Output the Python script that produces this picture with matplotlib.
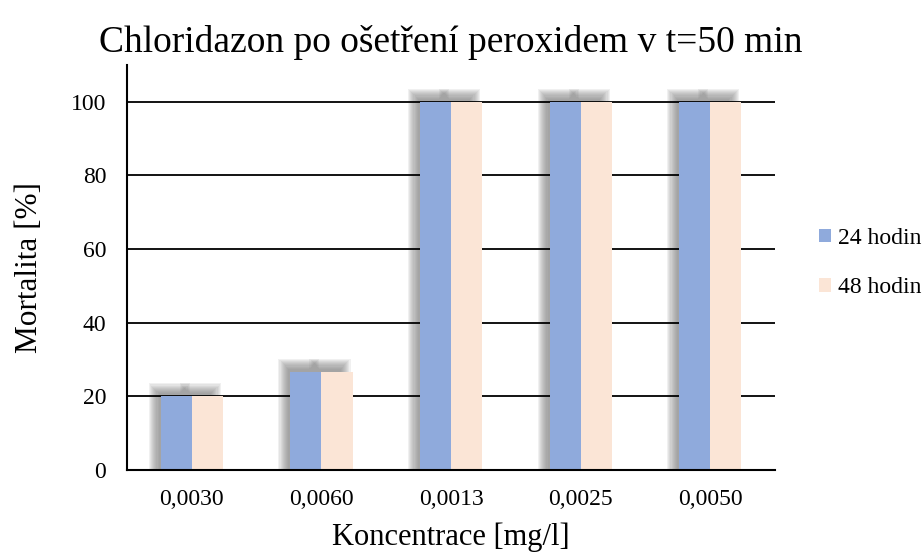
import matplotlib.pyplot as plt
import matplotlib.patches as patches
import numpy as np

plt.rcParams['font.family'] = ['Liberation Serif', 'DejaVu Serif']

# Data
categories = ['0,0030', '0,0060', '0,0013', '0,0025', '0,0050']
h24 = [20, 26.67, 100, 100, 100]
h48 = [20, 26.67, 100, 100, 100]
series_names = ['24 hodin', '48 hodin']

blue = '#8FAADC'
peach = '#FBE5D6'

fig = plt.figure(figsize=(9.23, 5.54), dpi=100)
ax = fig.add_axes([0.1376, 0.1516, 0.7021, 0.7311])

x = np.arange(len(categories))
w = 0.24
xmin, xmax = -0.5, len(categories) - 0.5
ymin, ymax = 0, 110
ax.set_xlim(xmin, xmax)
ax.set_ylim(ymin, ymax)

# pixel -> data scale
pos = ax.get_position()
ux = fig.get_figwidth() * fig.dpi * pos.width / (xmax - xmin)
uy = fig.get_figheight() * fig.dpi * pos.height / (ymax - ymin)

# soft shadow behind bars (offset up-left, blurred)
dx, dy, blur = -7, 8, 5
steps = 10
for xs, vals in [(x - w / 2, h24), (x + w / 2, h48)]:
    for xc, v in zip(xs, vals):
        x0 = xc - w / 2
        for k in range(steps):
            r = blur - 2 * blur * k / (steps - 1)
            rect = patches.Rectangle(
                (x0 + (dx - r) / ux, 0),
                w + 2 * r / ux, v + (dy + r) / uy,
                fc='#7f7f7f', ec='none', alpha=0.11, zorder=1)
            ax.add_patch(rect)

ax.bar(x - w / 2, h24, w, color=blue, label=series_names[0], zorder=3)
ax.bar(x + w / 2, h48, w, color=peach, label=series_names[1], zorder=3)

ax.set_yticks(np.arange(0, 101, 20))
ax.yaxis.grid(True, color='black', lw=1.3)
for gl in ax.get_ygridlines():
    gl.set_zorder(2)
ax.set_xticks(x)
ax.set_xticklabels(categories)
ax.tick_params(axis='both', length=0, labelsize=17)
ax.tick_params(axis='x', pad=14)
ax.tick_params(axis='y', pad=15)

for s in ['top', 'right']:
    ax.spines[s].set_visible(False)
for s in ['left', 'bottom']:
    ax.spines[s].set_linewidth(1.5)
    ax.spines[s].set_zorder(4)

ax.set_title('Chloridazon po ošetření peroxidem v t=50 min', fontsize=27, pad=9)
ax.set_xlabel('Koncentrace [mg/l]', fontsize=22, labelpad=9)
ax.set_ylabel('Mortalita [%]', fontsize=22.5, labelpad=19)

ax.legend(loc='center left', bbox_to_anchor=(0.877, 0.525), bbox_transform=fig.transFigure,
          frameon=False, fontsize=17, handlelength=0.5, handleheight=0.5,
          handletextpad=0.3, labelspacing=1.2, borderaxespad=0)

fig.savefig('out.png', dpi=100)
